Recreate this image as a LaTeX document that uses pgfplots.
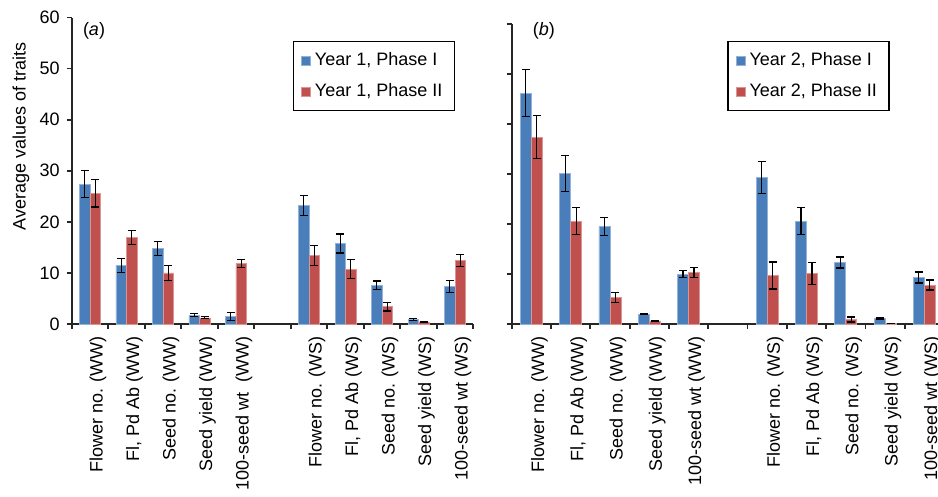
\documentclass[border=0pt]{standalone}
\usepackage{pgfplots}
\pgfplotsset{compat=1.18}
\usepackage{pgfplotstable}
\usepackage{fontspec}
\setmainfont{Liberation Sans}

\definecolor{barblue}{RGB}{74,126,187}
\definecolor{barred}{RGB}{192,80,77}

% Panel (a)
\pgfplotstableread{
x y e
0 27.4 2.7
1 11.5 1.4
2 14.8 1.35
3 1.7 0.3
4 1.45 0.8
6 23.2 2.0
7 15.75 1.85
8 7.6 0.8
9 0.85 0.15
10 7.3 1.2
}\aone
\pgfplotstableread{
x y e
0 25.6 2.7
1 16.9 1.4
2 10.0 1.45
3 1.2 0.2
4 11.8 0.8
6 13.4 2.0
7 10.7 1.85
8 3.4 0.85
9 0.4 0.1
10 12.4 1.2
}\atwo
% Panel (b)
\pgfplotstableread{
x y e
0 46.2 4.7
1 30.1 3.6
2 19.5 1.8
3 2.0 0.15
4 10.0 0.75
6 29.3 3.2
7 20.6 2.7
8 12.3 1.1
9 1.1 0.1
10 9.3 1.1
}\bone
\pgfplotstableread{
x y e
0 37.4 4.3
1 20.6 2.7
2 5.3 1.0
3 0.6 0.1
4 10.3 1.0
6 9.7 2.7
7 10.1 2.2
8 0.9 0.5
9 0.1 0.0
10 7.8 1.0
}\btwo

\newcommand{\fs}{\fontsize{9}{10.8}\selectfont}

\pgfplotsset{
  mybar/.style={
    scale only axis, ybar=0pt,
    ymin=0, ymax=60, xmin=-0.5, xmax=10.5,
    axis x line*=bottom, axis y line*=left,
    axis line style={line width=0.9pt, black!85},
    tick align=outside, major tick length=2.5pt,
    every tick/.style={line width=0.9pt, black!85},
    xtick={-0.5,0.5,...,10.5}, xticklabels={},
    extra x ticks={0,1,2,3,4,6,7,8,9,10},
    extra x tick style={tick style={draw=none},
      ticklabel style={rotate=90, anchor=east, font=\fs, yshift=-4pt}},
    ytick={0,10,...,60},
    tick label style={font=\fs},
    /pgf/number format/assume math mode=true,
    clip=false,
    legend style={anchor=north west, draw=black, line width=0.7pt, font=\fs,
      inner xsep=4pt, inner ysep=3.5pt, row sep=3.3pt, cells={anchor=west}},
    legend image code/.code={\fill[##1] (0pt,-2.25pt) rectangle (4.5pt,2.25pt);},
  },
  errs/.style={
    error bars/y dir=both, error bars/y explicit,
    error bars/error bar style={line width=0.6pt, black},
    error bars/error mark options={rotate=90, line width=0.6pt, black, mark size=2pt}},
  blueb/.style={fill=barblue, draw=barblue!60!white, line width=0.3pt, errs},
  redb/.style={fill=barred, draw=barred!60!white, line width=0.3pt, errs},
}

\begin{document}
\begin{tikzpicture}
\begin{axis}[mybar, at={(35.85pt,86.5pt)}, anchor=south west,
  width=200.8pt, height=153.25pt, bar width=5.25pt,
  extra x tick labels={Flower no. (WW), {Fl, Pd Ab (WW)}, Seed no. (WW), Seed yield (WW), 100-seed wt\ \ (WW),
    Flower no. (WS), {Fl, Pd Ab (WS)}, Seed no. (WS), Seed yield (WS), 100-seed wt (WS)},
  legend style={at={(0.5503,0.9233)}}]
\addplot[blueb] table[x=x, y=y, y error=e] {\aone};
\addplot[redb] table[x=x, y=y, y error=e] {\atwo};
\legend{{Year 1, Phase I}, {Year 1, Phase II}}
\end{axis}
\begin{axis}[mybar, at={(255.85pt,86.5pt)}, anchor=south west,
  width=216.15pt, height=149.85pt, bar width=5.5pt, yticklabels={},
  extra x tick labels={Flower no. (WW), {Fl, Pd Ab (WW)}, Seed no. (WW), Seed yield (WW), 100-seed wt (WW),
    Flower no. (WS), {Fl, Pd Ab (WS)}, Seed no. (WS), Seed yield (WS), 100-seed wt (WS)},
  legend style={at={(0.4987,0.9443)}}]
\addplot[blueb] table[x=x, y=y, y error=e] {\bone};
\addplot[redb] table[x=x, y=y, y error=e] {\btwo};
\legend{{Year 2, Phase I}, {Year 2, Phase II}}
\end{axis}
\node[font=\fs] at (47pt,233.15pt) {(\textit{a})};
\node[font=\fs] at (271.9pt,233.15pt) {(\textit{b})};
\node[font=\fs, rotate=90] at (10.5pt,180.25pt) {Average values of traits};
\pgfresetboundingbox
\path[use as bounding box] (0,0) rectangle (469pt,248.5pt);
\end{tikzpicture}
\end{document}
